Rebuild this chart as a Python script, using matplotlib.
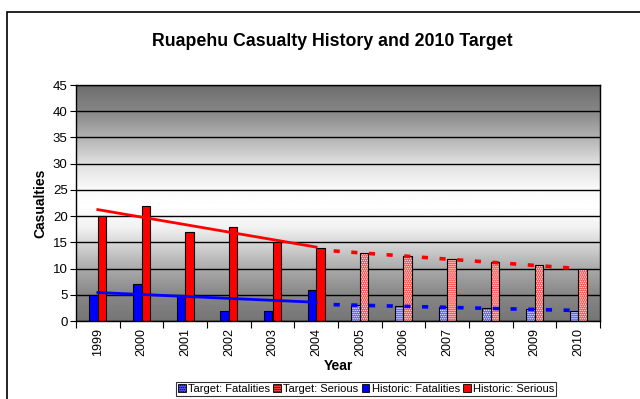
import matplotlib.pyplot as plt
import matplotlib.patches as mpatches
import numpy as np

years = ['1999', '2000', '2001', '2002', '2003', '2004',
         '2005', '2006', '2007', '2008', '2009', '2010']
hist_fatal = [5, 7, 5, 2, 2, 6]
hist_serious = [20, 22, 17, 18, 15, 14]
target_fatal = [3.0, 2.8, 2.6, 2.4, 2.2, 2.0]
target_serious = [13.0, 12.4, 11.8, 11.2, 10.6, 10.0]

plt.rcParams['font.family'] = ['Liberation Sans', 'DejaVu Sans']
plt.rcParams['hatch.linewidth'] = 0.7

fig = plt.figure(figsize=(6.4, 3.99), dpi=100)
ax = fig.add_axes([76 / 640, 78 / 399, 524 / 640, 236 / 399])

# outer chart border
fig.patches.append(mpatches.Rectangle((7 / 640, -0.05), 1.1, (399 - 12) / 399 + 0.05,
                                      transform=fig.transFigure, fill=False,
                                      edgecolor='black', linewidth=1.2))

# gradient plot background (grey levels by height)
hv = np.linspace(45, 0, 200)
stops_v = [0, 5, 10, 15, 18, 22, 25, 30, 35, 40, 45]
stops_g = [0.46, 0.53, 0.67, 0.85, 0.95, 1.0, 0.98, 0.88, 0.70, 0.53, 0.43]
g = np.interp(hv, stops_v, stops_g)
ax.imshow(g.reshape(-1, 1), cmap='gray', vmin=0, vmax=1, aspect='auto',
          extent=[-0.5, 11.5, 0, 45], zorder=0, interpolation='bilinear')

x = np.arange(len(years))
xh = x[:6]
xt = x[6:]
w = 0.195

ax.bar(xh - w / 2, hist_fatal, w, color='#0000ff', edgecolor='black', linewidth=0.8, zorder=3)
ax.bar(xh + w / 2, hist_serious, w, color='#ff0000', edgecolor='black', linewidth=0.8, zorder=3)

# target bars: dotted fill then black outline
ax.bar(xt - w / 2, target_fatal, w, color='#5858ff', edgecolor='white', hatch='........',
       linewidth=0, zorder=3)
ax.bar(xt + w / 2, target_serious, w, color='#ff4848', edgecolor='white', hatch='........',
       linewidth=0, zorder=3)
ax.bar(xt - w / 2, target_fatal, w, fill=False, edgecolor='black', linewidth=0.8, zorder=3)
ax.bar(xt + w / 2, target_serious, w, fill=False, edgecolor='black', linewidth=0.8, zorder=3)

# historic trend lines
for vals, col in [(hist_fatal, '#0000ff'), (hist_serious, '#ff0000')]:
    k, b = np.polyfit(xh, vals, 1)
    ax.plot([xh[0], xh[-1]], [k * xh[0] + b, k * xh[-1] + b], color=col, lw=2, zorder=4)

# target trend lines (dotted, extended back)
for vals, col in [(target_fatal, '#0000ff'), (target_serious, '#ff0000')]:
    k, b = np.polyfit(xt, vals, 1)
    xs = np.array([xt[0] - 0.6, xt[-1]])
    ax.plot(xs, k * xs + b, color=col, lw=2.6, linestyle=(0, (1.7, 3.2)), zorder=4)

ax.set_xlim(-0.5, 11.5)
ax.set_ylim(0, 45)
ax.set_yticks(range(0, 46, 5))
ax.yaxis.grid(True, color='black', linewidth=1)
ax.set_axisbelow(False)
for line in ax.get_ygridlines():
    line.set_zorder(1)

ax.set_xticks(x)
ax.set_xticklabels(years, rotation=90, fontsize=9)
ax.set_xticks(np.arange(-0.5, 12, 1), minor=True)
ax.tick_params(axis='x', which='major', length=0, pad=5)
ax.tick_params(axis='x', which='minor', length=5, width=0.8)
ax.tick_params(axis='y', length=4, width=0.8, labelsize=9.5, pad=2)

for s in ax.spines.values():
    s.set_linewidth(1)
    s.set_zorder(5)

ax.set_ylabel('Casualties', fontsize=10, fontweight='bold', labelpad=4)
ax.set_xlabel('Year', fontsize=10, fontweight='bold', labelpad=2)
fig.text(332 / 640, 1 - 41 / 399, 'Ruapehu Casualty History and 2010 Target',
         ha='center', va='center', fontsize=12.8, fontweight='bold')

handles = [
    mpatches.Patch(facecolor='#5858ff', edgecolor='black', hatch='........', linewidth=0.6),
    mpatches.Patch(facecolor='#ff4848', edgecolor='black', hatch='........', linewidth=0.6),
    mpatches.Patch(facecolor='#0000ff', edgecolor='black', linewidth=0.6),
    mpatches.Patch(facecolor='#ff0000', edgecolor='black', linewidth=0.6),
]
labels = ['Target: Fatalities', 'Target: Serious', 'Historic: Fatalities', 'Historic: Serious']
leg = fig.legend(handles, labels, loc='center', bbox_to_anchor=(366 / 640, 1 - 389 / 399),
                 ncol=4, fontsize=8, frameon=True, fancybox=False, edgecolor='black',
                 handlelength=0.7, handleheight=0.7, handletextpad=0.2, columnspacing=0.3,
                 borderpad=0.2, borderaxespad=0)
leg.get_frame().set_linewidth(0.8)

fig.savefig('out.png', dpi=100)
